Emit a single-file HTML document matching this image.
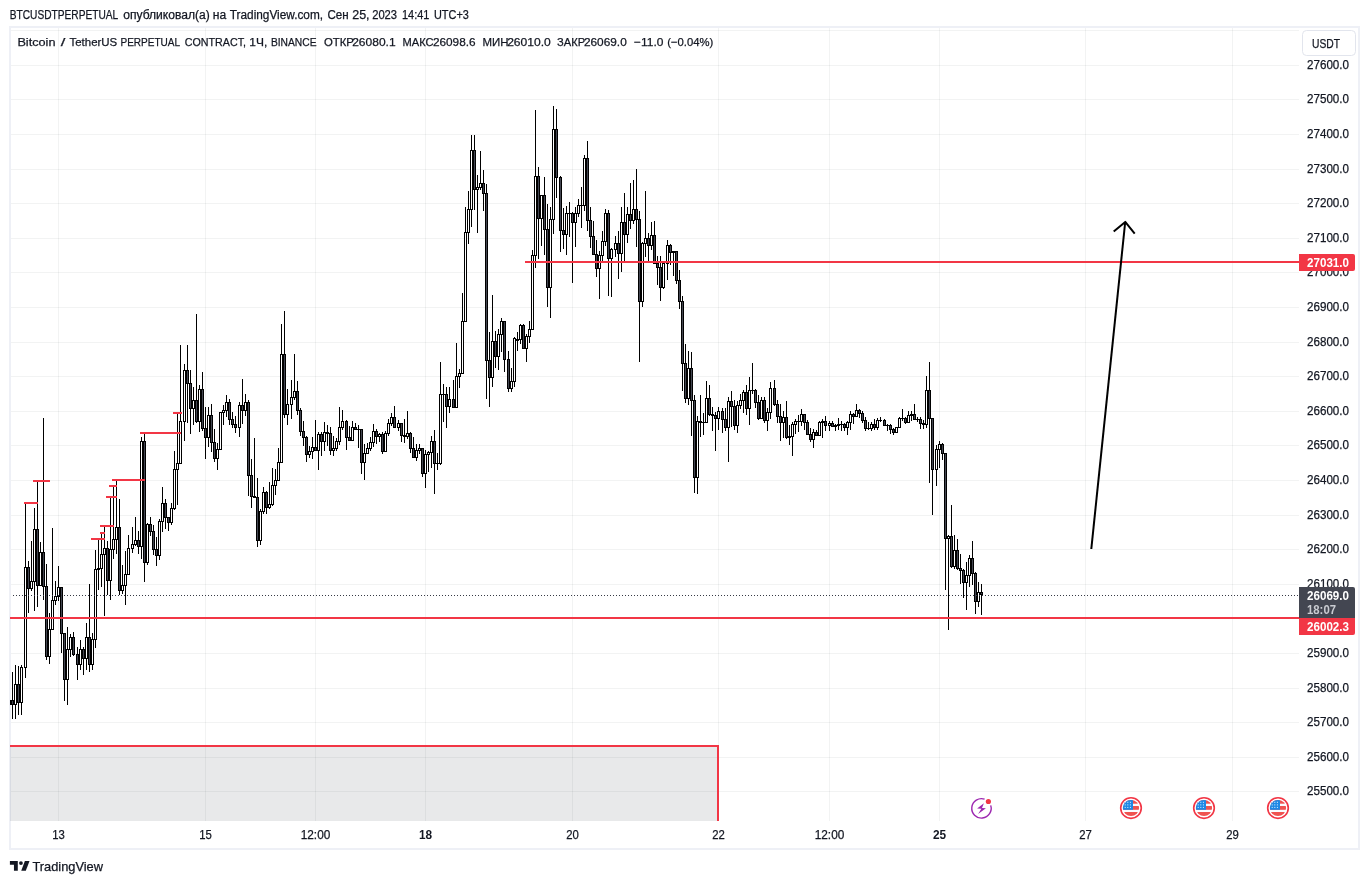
<!DOCTYPE html>
<html lang="ru"><head><meta charset="utf-8"><title>BTCUSDTPERPETUAL</title>
<style>html,body{margin:0;padding:0;background:#fff}body{width:1369px;height:884px;overflow:hidden}svg{display:block}text{font-family:"Liberation Sans",sans-serif;fill:#131722;stroke:#131722;stroke-width:0.25px}</style>
</head><body>
<svg width="1369" height="884" viewBox="0 0 1369 884">
<rect width="1369" height="884" fill="#fff"/>
<rect x="10" y="27" width="1349" height="822" fill="#fff" stroke="#eef0f6" stroke-width="2"/>
<g fill="#2a2e39" fill-opacity="0.06" shape-rendering="crispEdges">
<rect x="11" y="791" width="1288" height="1"/>
<rect x="11" y="757" width="1288" height="1"/>
<rect x="11" y="722" width="1288" height="1"/>
<rect x="11" y="688" width="1288" height="1"/>
<rect x="11" y="653" width="1288" height="1"/>
<rect x="11" y="618" width="1288" height="1"/>
<rect x="11" y="584" width="1288" height="1"/>
<rect x="11" y="549" width="1288" height="1"/>
<rect x="11" y="515" width="1288" height="1"/>
<rect x="11" y="480" width="1288" height="1"/>
<rect x="11" y="445" width="1288" height="1"/>
<rect x="11" y="411" width="1288" height="1"/>
<rect x="11" y="376" width="1288" height="1"/>
<rect x="11" y="342" width="1288" height="1"/>
<rect x="11" y="307" width="1288" height="1"/>
<rect x="11" y="272" width="1288" height="1"/>
<rect x="11" y="238" width="1288" height="1"/>
<rect x="11" y="203" width="1288" height="1"/>
<rect x="11" y="169" width="1288" height="1"/>
<rect x="11" y="134" width="1288" height="1"/>
<rect x="11" y="99" width="1288" height="1"/>
<rect x="11" y="65" width="1288" height="1"/>
<rect x="11" y="30" width="1288" height="1"/>
<rect x="58" y="28" width="1" height="793"/>
<rect x="205" y="28" width="1" height="793"/>
<rect x="315" y="28" width="1" height="793"/>
<rect x="425" y="28" width="1" height="793"/>
<rect x="572" y="28" width="1" height="793"/>
<rect x="718" y="28" width="1" height="793"/>
<rect x="829" y="28" width="1" height="793"/>
<rect x="939" y="28" width="1" height="793"/>
<rect x="1085" y="28" width="1" height="793"/>
<rect x="1232" y="28" width="1" height="793"/>
</g>
<g shape-rendering="crispEdges">
<rect x="10" y="745" width="709" height="76" fill="#2a2e39" fill-opacity="0.105"/>
<rect x="10" y="745" width="709" height="2" fill="#f23645"/>
<rect x="717" y="745" width="2" height="76" fill="#f23645"/>
</g>
<g shape-rendering="crispEdges" id="candles">
<path fill="#000" d="M12 672h1v28h-1zM12 705h1v14h-1zM15 665h1v19h-1zM15 705h1v14h-1zM18 666h1v18h-1zM18 703h1v12h-1zM21 665h1v2h-1zM21 703h1v12h-1zM25 503h1v64h-1zM25 668h1v10h-1zM28 561h1v6h-1zM28 589h1v24h-1zM31 541h1v40h-1zM31 589h1v2h-1zM34 508h1v21h-1zM34 582h1v29h-1zM37 481h1v48h-1zM37 586h1v21h-1zM40 542h1v10h-1zM43 418h1v134h-1zM43 587h1v13h-1zM46 564h1v22h-1zM46 657h1v3h-1zM49 613h1v16h-1zM49 657h1v7h-1zM52 528h1v72h-1zM55 581h1v15h-1zM55 601h1v4h-1zM58 566h1v21h-1zM58 597h1v4h-1zM61 634h1v19h-1zM64 680h1v21h-1zM67 627h1v22h-1zM67 680h1v25h-1zM70 634h1v3h-1zM70 650h1v7h-1zM73 632h1v5h-1zM73 655h1v1h-1zM77 647h1v7h-1zM77 665h1v15h-1zM80 640h1v9h-1zM80 665h1v5h-1zM83 647h1v2h-1zM83 659h1v16h-1zM86 623h1v14h-1zM86 659h1v11h-1zM89 584h1v53h-1zM89 665h1v7h-1zM92 633h1v6h-1zM92 665h1v5h-1zM95 550h1v19h-1zM95 640h1v8h-1zM98 539h1v29h-1zM98 570h1v20h-1zM101 533h1v21h-1zM101 569h1v18h-1zM104 526h1v22h-1zM104 555h1v61h-1zM107 541h1v7h-1zM107 581h1v14h-1zM110 497h1v52h-1zM110 581h1v19h-1zM113 486h1v53h-1zM113 550h1v9h-1zM116 480h1v47h-1zM116 540h1v14h-1zM119 499h1v28h-1zM119 591h1v4h-1zM122 565h1v20h-1zM122 591h1v3h-1zM125 551h1v23h-1zM125 586h1v19h-1zM128 535h1v13h-1zM132 527h1v17h-1zM132 549h1v4h-1zM135 517h1v23h-1zM135 545h1v1h-1zM138 531h1v9h-1zM138 547h1v7h-1zM141 437h1v4h-1zM141 547h1v12h-1zM144 433h1v8h-1zM144 563h1v19h-1zM147 523h1v1h-1zM147 563h1v2h-1zM150 517h1v7h-1zM150 532h1v4h-1zM153 525h1v6h-1zM153 550h1v5h-1zM156 537h1v12h-1zM156 556h1v10h-1zM159 519h1v2h-1zM159 556h1v4h-1zM162 487h1v16h-1zM162 522h1v10h-1zM165 499h1v4h-1zM165 518h1v11h-1zM168 523h1v8h-1zM171 503h1v5h-1zM171 523h1v2h-1zM174 451h1v18h-1zM174 509h1v1h-1zM177 413h1v50h-1zM177 470h1v35h-1zM180 345h1v76h-1zM184 364h1v6h-1zM184 422h1v19h-1zM187 345h1v25h-1zM187 384h1v39h-1zM190 370h1v13h-1zM190 409h1v25h-1zM193 387h1v13h-1zM193 409h1v16h-1zM196 314h1v86h-1zM196 422h1v1h-1zM199 385h1v4h-1zM199 422h1v10h-1zM202 372h1v17h-1zM202 429h1v2h-1zM205 407h1v21h-1zM205 438h1v21h-1zM208 407h1v8h-1zM208 438h1v9h-1zM211 404h1v11h-1zM211 443h1v9h-1zM214 429h1v13h-1zM214 459h1v3h-1zM217 443h1v6h-1zM217 459h1v11h-1zM223 405h1v5h-1zM223 413h1v12h-1zM226 395h1v7h-1zM226 411h1v6h-1zM229 399h1v3h-1zM229 420h1v5h-1zM232 412h1v7h-1zM232 425h1v3h-1zM235 416h1v8h-1zM235 428h1v5h-1zM239 402h1v3h-1zM239 428h1v9h-1zM242 379h1v26h-1zM242 411h1v13h-1zM245 394h1v8h-1zM245 411h1v5h-1zM248 400h1v2h-1zM248 476h1v20h-1zM251 459h1v16h-1zM251 497h1v11h-1zM254 438h1v58h-1zM257 478h1v19h-1zM257 541h1v6h-1zM260 509h1v2h-1zM260 541h1v4h-1zM263 487h1v5h-1zM263 512h1v2h-1zM266 491h1v1h-1zM266 508h1v6h-1zM269 482h1v22h-1zM269 508h1v1h-1zM272 468h1v17h-1zM272 505h1v1h-1zM275 469h1v11h-1zM275 486h1v9h-1zM278 448h1v14h-1zM281 324h1v30h-1zM284 311h1v43h-1zM284 415h1v3h-1zM287 389h1v15h-1zM287 415h1v10h-1zM291 380h1v17h-1zM291 405h1v14h-1zM294 354h1v37h-1zM294 398h1v2h-1zM297 381h1v10h-1zM297 411h1v4h-1zM300 408h1v2h-1zM300 432h1v4h-1zM303 421h1v10h-1zM303 438h1v8h-1zM306 436h1v1h-1zM306 455h1v7h-1zM309 446h1v5h-1zM309 455h1v3h-1zM312 437h1v10h-1zM312 452h1v7h-1zM315 420h1v27h-1zM318 432h1v2h-1zM318 451h1v19h-1zM321 432h1v2h-1zM321 442h1v14h-1zM324 422h1v10h-1zM324 442h1v9h-1zM327 425h1v7h-1zM327 434h1v12h-1zM330 427h1v6h-1zM330 451h1v4h-1zM333 436h1v12h-1zM333 451h1v5h-1zM336 438h1v3h-1zM336 449h1v2h-1zM339 407h1v20h-1zM339 442h1v3h-1zM342 410h1v11h-1zM342 428h1v2h-1zM346 420h1v1h-1zM346 438h1v12h-1zM349 426h1v11h-1zM352 421h1v6h-1zM355 423h1v4h-1zM358 425h1v4h-1zM358 430h1v18h-1zM361 463h1v11h-1zM364 444h1v9h-1zM364 463h1v17h-1zM367 443h1v5h-1zM370 437h1v5h-1zM370 449h1v2h-1zM373 424h1v7h-1zM373 443h1v4h-1zM376 429h1v2h-1zM376 437h1v7h-1zM379 433h1v1h-1zM379 437h1v5h-1zM382 432h1v2h-1zM382 452h1v2h-1zM385 431h1v2h-1zM388 419h1v4h-1zM388 434h1v2h-1zM391 413h1v4h-1zM391 424h1v2h-1zM394 406h1v11h-1zM398 420h1v3h-1zM398 428h1v3h-1zM401 436h1v6h-1zM404 419h1v16h-1zM404 437h1v6h-1zM407 411h1v22h-1zM407 437h1v2h-1zM410 432h1v1h-1zM410 449h1v4h-1zM413 437h1v11h-1zM416 444h1v6h-1zM416 458h1v3h-1zM419 444h1v4h-1zM419 451h1v3h-1zM422 474h1v3h-1zM425 450h1v4h-1zM425 474h1v14h-1zM428 451h1v1h-1zM428 455h1v17h-1zM431 436h1v5h-1zM431 453h1v15h-1zM434 430h1v11h-1zM434 464h1v30h-1zM437 453h1v10h-1zM437 464h1v6h-1zM440 362h1v32h-1zM440 464h1v1h-1zM443 384h1v10h-1zM443 395h1v27h-1zM446 387h1v7h-1zM446 407h1v21h-1zM449 387h1v12h-1zM449 407h1v6h-1zM453 380h1v19h-1zM456 343h1v33h-1zM459 369h1v4h-1zM459 377h1v11h-1zM462 293h1v28h-1zM465 207h1v25h-1zM468 191h1v18h-1zM468 233h1v11h-1zM471 135h1v15h-1zM471 210h1v17h-1zM474 135h1v15h-1zM474 190h1v20h-1zM477 175h1v12h-1zM477 190h1v43h-1zM480 151h1v32h-1zM480 188h1v2h-1zM483 170h1v13h-1zM483 194h1v17h-1zM486 184h1v9h-1zM486 361h1v38h-1zM489 332h1v28h-1zM489 378h1v29h-1zM492 295h1v46h-1zM492 378h1v9h-1zM495 331h1v10h-1zM495 357h1v11h-1zM498 329h1v5h-1zM498 357h1v13h-1zM501 318h1v3h-1zM501 335h1v17h-1zM504 360h1v12h-1zM508 351h1v8h-1zM508 389h1v3h-1zM511 368h1v13h-1zM511 389h1v3h-1zM514 337h1v1h-1zM514 382h1v5h-1zM517 332h1v7h-1zM517 341h1v10h-1zM520 324h1v1h-1zM520 340h1v4h-1zM523 324h1v1h-1zM526 334h1v2h-1zM526 349h1v13h-1zM529 321h1v8h-1zM529 337h1v6h-1zM532 250h1v5h-1zM535 110h1v66h-1zM535 256h1v12h-1zM538 167h1v9h-1zM538 219h1v40h-1zM541 219h1v27h-1zM544 177h1v18h-1zM544 230h1v25h-1zM547 204h1v25h-1zM547 288h1v19h-1zM550 207h1v12h-1zM550 288h1v30h-1zM553 106h1v23h-1zM553 220h1v14h-1zM556 109h1v20h-1zM556 178h1v20h-1zM560 176h1v1h-1zM560 231h1v21h-1zM563 208h1v22h-1zM563 235h1v14h-1zM566 206h1v7h-1zM566 235h1v20h-1zM569 202h1v11h-1zM569 214h1v23h-1zM572 212h1v1h-1zM572 223h1v60h-1zM575 207h1v6h-1zM575 223h1v24h-1zM578 199h1v6h-1zM578 214h1v3h-1zM581 187h1v18h-1zM581 206h1v22h-1zM584 155h1v3h-1zM584 206h1v5h-1zM587 141h1v17h-1zM587 221h1v10h-1zM590 207h1v13h-1zM590 237h1v11h-1zM593 221h1v15h-1zM596 240h1v14h-1zM596 269h1v8h-1zM599 251h1v4h-1zM599 269h1v30h-1zM602 231h1v10h-1zM602 256h1v5h-1zM605 209h1v4h-1zM605 242h1v4h-1zM608 210h1v3h-1zM608 259h1v37h-1zM611 248h1v1h-1zM611 259h1v38h-1zM615 236h1v7h-1zM615 250h1v7h-1zM618 231h1v12h-1zM618 254h1v25h-1zM621 207h1v15h-1zM621 254h1v18h-1zM624 193h1v29h-1zM624 235h1v26h-1zM627 207h1v7h-1zM627 235h1v8h-1zM630 183h1v31h-1zM630 221h1v8h-1zM633 180h1v29h-1zM633 221h1v3h-1zM636 169h1v40h-1zM636 220h1v27h-1zM639 211h1v8h-1zM639 302h1v60h-1zM642 242h1v1h-1zM642 302h1v5h-1zM645 191h1v47h-1zM645 244h1v13h-1zM648 233h1v5h-1zM648 246h1v15h-1zM651 222h1v13h-1zM651 246h1v4h-1zM654 221h1v14h-1zM657 256h1v7h-1zM657 268h1v17h-1zM660 256h1v11h-1zM660 288h1v13h-1zM663 288h1v1h-1zM667 240h1v5h-1zM667 264h1v16h-1zM670 244h1v1h-1zM670 253h1v12h-1zM673 253h1v23h-1zM676 281h1v3h-1zM679 270h1v10h-1zM679 302h1v7h-1zM682 296h1v5h-1zM682 364h1v27h-1zM685 344h1v19h-1zM685 399h1v4h-1zM688 351h1v17h-1zM688 399h1v6h-1zM691 352h1v16h-1zM691 401h1v35h-1zM694 395h1v5h-1zM694 478h1v15h-1zM697 416h1v5h-1zM697 478h1v16h-1zM700 395h1v26h-1zM700 423h1v14h-1zM703 413h1v9h-1zM703 423h1v12h-1zM706 381h1v17h-1zM709 385h1v13h-1zM709 415h1v1h-1zM712 407h1v7h-1zM712 416h1v15h-1zM715 412h1v3h-1zM715 419h1v32h-1zM718 407h1v4h-1zM718 419h1v11h-1zM722 408h1v3h-1zM722 420h1v13h-1zM725 408h1v11h-1zM725 428h1v3h-1zM728 397h1v4h-1zM728 428h1v34h-1zM731 391h1v10h-1zM731 407h1v20h-1zM734 400h1v6h-1zM734 426h1v4h-1zM737 401h1v4h-1zM737 426h1v7h-1zM740 394h1v6h-1zM740 406h1v3h-1zM743 390h1v2h-1zM743 401h1v12h-1zM746 385h1v7h-1zM746 409h1v6h-1zM749 377h1v13h-1zM749 409h1v16h-1zM752 363h1v27h-1zM752 391h1v3h-1zM755 389h1v1h-1zM755 403h1v5h-1zM758 395h1v7h-1zM758 419h1v1h-1zM761 397h1v3h-1zM764 397h1v3h-1zM764 421h1v2h-1zM767 408h1v4h-1zM767 421h1v10h-1zM770 382h1v6h-1zM770 413h1v6h-1zM774 380h1v8h-1zM774 405h1v1h-1zM777 400h1v4h-1zM777 417h1v6h-1zM780 404h1v12h-1zM780 423h1v18h-1zM783 411h1v6h-1zM783 423h1v15h-1zM786 401h1v16h-1zM786 438h1v1h-1zM789 425h1v11h-1zM789 438h1v7h-1zM792 422h1v2h-1zM792 437h1v19h-1zM795 419h1v2h-1zM795 425h1v9h-1zM798 415h1v6h-1zM798 422h1v10h-1zM801 409h1v5h-1zM801 422h1v4h-1zM804 423h1v7h-1zM807 420h1v2h-1zM810 428h1v6h-1zM810 440h1v2h-1zM813 429h1v3h-1zM813 440h1v8h-1zM816 430h1v2h-1zM819 421h1v1h-1zM822 419h1v2h-1zM822 423h1v15h-1zM825 416h1v5h-1zM825 426h1v5h-1zM829 421h1v2h-1zM829 426h1v5h-1zM832 421h1v2h-1zM835 424h1v1h-1zM835 427h1v4h-1zM838 418h1v6h-1zM838 426h1v4h-1zM841 421h1v3h-1zM841 425h1v6h-1zM844 423h1v1h-1zM844 428h1v3h-1zM847 421h1v1h-1zM847 428h1v7h-1zM850 411h1v3h-1zM850 423h1v7h-1zM853 413h1v1h-1zM853 417h1v7h-1zM856 404h1v6h-1zM859 409h1v1h-1zM859 414h1v4h-1zM862 411h1v2h-1zM862 421h1v2h-1zM865 417h1v3h-1zM865 429h1v2h-1zM868 422h1v6h-1zM868 429h1v1h-1zM871 422h1v2h-1zM871 429h1v2h-1zM874 419h1v5h-1zM874 428h1v2h-1zM877 418h1v2h-1zM877 428h1v2h-1zM880 417h1v3h-1zM880 421h1v1h-1zM884 419h1v1h-1zM887 424h1v1h-1zM887 426h1v5h-1zM890 424h1v1h-1zM890 430h1v4h-1zM893 428h1v1h-1zM893 433h1v2h-1zM899 417h1v1h-1zM902 409h1v9h-1zM902 419h1v2h-1zM905 417h1v1h-1zM905 423h1v1h-1zM908 411h1v4h-1zM911 411h1v3h-1zM911 416h1v5h-1zM914 404h1v10h-1zM917 417h1v2h-1zM917 420h1v2h-1zM920 417h1v2h-1zM920 424h1v5h-1zM923 420h1v3h-1zM923 425h1v4h-1zM926 376h1v14h-1zM926 425h1v3h-1zM929 362h1v28h-1zM929 419h1v64h-1zM932 470h1v45h-1zM936 445h1v4h-1zM936 470h1v16h-1zM939 441h1v3h-1zM939 450h1v18h-1zM942 443h1v1h-1zM942 454h1v6h-1zM945 539h1v51h-1zM948 535h1v1h-1zM948 539h1v91h-1zM951 505h1v31h-1zM951 567h1v1h-1zM954 535h1v15h-1zM954 567h1v2h-1zM957 539h1v11h-1zM957 569h1v1h-1zM960 554h1v14h-1zM960 571h1v13h-1zM963 569h1v1h-1zM963 583h1v15h-1zM966 562h1v13h-1zM966 583h1v27h-1zM969 555h1v3h-1zM969 576h1v11h-1zM972 541h1v17h-1zM972 574h1v11h-1zM975 572h1v1h-1zM975 602h1v12h-1zM978 582h1v10h-1zM978 602h1v5h-1zM981 584h1v8h-1zM981 595h1v20h-1zM10 700h1v5h-1z"/>
<path fill="#000" d="M11 700h3v5h-3zM14 684h3v21h-3zM17 684h3v19h-3zM20 667h3v36h-3zM24 567h3v101h-3zM27 567h3v22h-3zM30 581h3v8h-3zM33 529h3v53h-3zM36 529h3v57h-3zM39 552h3v34h-3zM42 552h3v35h-3zM45 586h3v71h-3zM48 629h3v28h-3zM51 600h3v30h-3zM54 596h3v5h-3zM57 587h3v10h-3zM60 587h3v47h-3zM63 633h3v47h-3zM66 649h3v31h-3zM69 637h3v13h-3zM72 637h3v18h-3zM76 654h3v11h-3zM79 649h3v16h-3zM82 649h3v10h-3zM85 637h3v22h-3zM88 637h3v28h-3zM91 639h3v26h-3zM94 569h3v71h-3zM97 568h3v2h-3zM100 554h3v15h-3zM103 548h3v7h-3zM106 548h3v33h-3zM109 549h3v32h-3zM112 539h3v11h-3zM115 527h3v13h-3zM118 527h3v64h-3zM121 585h3v6h-3zM124 574h3v12h-3zM127 548h3v27h-3zM131 544h3v5h-3zM134 540h3v5h-3zM137 540h3v7h-3zM140 441h3v106h-3zM143 441h3v122h-3zM146 524h3v39h-3zM149 524h3v8h-3zM152 531h3v19h-3zM155 549h3v7h-3zM158 521h3v35h-3zM161 503h3v19h-3zM164 503h3v15h-3zM167 517h3v6h-3zM170 508h3v15h-3zM173 469h3v40h-3zM176 463h3v7h-3zM179 421h3v43h-3zM183 370h3v52h-3zM186 370h3v14h-3zM189 383h3v26h-3zM192 400h3v9h-3zM195 400h3v22h-3zM198 389h3v33h-3zM201 389h3v40h-3zM204 428h3v10h-3zM207 415h3v23h-3zM210 415h3v28h-3zM213 442h3v17h-3zM216 449h3v10h-3zM219 412h3v38h-3zM222 410h3v3h-3zM225 402h3v9h-3zM228 402h3v18h-3zM231 419h3v6h-3zM234 424h3v4h-3zM238 405h3v23h-3zM241 405h3v6h-3zM244 402h3v9h-3zM247 402h3v74h-3zM250 475h3v22h-3zM253 496h3v2h-3zM256 497h3v44h-3zM259 511h3v30h-3zM262 492h3v20h-3zM265 492h3v16h-3zM268 504h3v4h-3zM271 485h3v20h-3zM274 480h3v6h-3zM277 462h3v19h-3zM280 354h3v109h-3zM283 354h3v61h-3zM286 404h3v11h-3zM290 397h3v8h-3zM293 391h3v7h-3zM296 391h3v20h-3zM299 410h3v22h-3zM302 431h3v7h-3zM305 437h3v18h-3zM308 451h3v4h-3zM311 447h3v5h-3zM314 447h3v4h-3zM317 434h3v17h-3zM320 434h3v8h-3zM323 432h3v10h-3zM326 432h3v2h-3zM329 433h3v18h-3zM332 448h3v3h-3zM335 441h3v8h-3zM338 427h3v15h-3zM341 421h3v7h-3zM345 421h3v17h-3zM348 437h3v4h-3zM351 427h3v14h-3zM354 427h3v3h-3zM357 429h3v1h-3zM360 429h3v34h-3zM363 453h3v10h-3zM366 448h3v6h-3zM369 442h3v7h-3zM372 431h3v12h-3zM375 431h3v6h-3zM378 434h3v3h-3zM381 434h3v18h-3zM384 433h3v19h-3zM387 423h3v11h-3zM390 417h3v7h-3zM393 417h3v11h-3zM397 423h3v5h-3zM400 423h3v13h-3zM403 435h3v2h-3zM406 433h3v4h-3zM409 433h3v16h-3zM412 448h3v10h-3zM415 450h3v8h-3zM418 448h3v3h-3zM421 448h3v26h-3zM424 454h3v20h-3zM427 452h3v3h-3zM430 441h3v12h-3zM433 441h3v23h-3zM436 463h3v1h-3zM439 394h3v70h-3zM442 394h3v1h-3zM445 394h3v13h-3zM448 399h3v8h-3zM452 399h3v9h-3zM455 376h3v32h-3zM458 373h3v4h-3zM461 321h3v53h-3zM464 232h3v90h-3zM467 209h3v24h-3zM470 150h3v60h-3zM473 150h3v40h-3zM476 187h3v3h-3zM479 183h3v5h-3zM482 183h3v11h-3zM485 193h3v168h-3zM488 360h3v18h-3zM491 341h3v37h-3zM494 341h3v16h-3zM497 334h3v23h-3zM500 321h3v14h-3zM503 321h3v39h-3zM507 359h3v30h-3zM510 381h3v8h-3zM513 338h3v44h-3zM516 339h3v2h-3zM519 325h3v15h-3zM522 325h3v24h-3zM525 336h3v13h-3zM528 329h3v8h-3zM531 255h3v75h-3zM534 176h3v80h-3zM537 176h3v43h-3zM540 195h3v24h-3zM543 195h3v35h-3zM546 229h3v59h-3zM549 219h3v69h-3zM552 129h3v91h-3zM555 129h3v49h-3zM559 177h3v54h-3zM562 230h3v5h-3zM565 213h3v22h-3zM568 213h3v1h-3zM571 213h3v10h-3zM574 213h3v10h-3zM577 205h3v9h-3zM580 205h3v1h-3zM583 158h3v48h-3zM586 158h3v63h-3zM589 220h3v17h-3zM592 236h3v19h-3zM595 254h3v15h-3zM598 255h3v14h-3zM601 241h3v15h-3zM604 213h3v29h-3zM607 213h3v46h-3zM610 249h3v10h-3zM614 243h3v7h-3zM617 243h3v11h-3zM620 222h3v32h-3zM623 222h3v13h-3zM626 214h3v21h-3zM629 214h3v7h-3zM632 209h3v12h-3zM635 209h3v11h-3zM638 219h3v83h-3zM641 243h3v59h-3zM644 238h3v6h-3zM647 238h3v8h-3zM650 235h3v11h-3zM653 235h3v29h-3zM656 263h3v5h-3zM659 267h3v21h-3zM662 263h3v25h-3zM666 245h3v19h-3zM669 245h3v8h-3zM672 251h3v2h-3zM675 251h3v30h-3zM678 280h3v22h-3zM681 301h3v63h-3zM684 363h3v36h-3zM687 368h3v31h-3zM690 368h3v33h-3zM693 400h3v78h-3zM696 421h3v57h-3zM699 421h3v2h-3zM702 422h3v1h-3zM705 398h3v25h-3zM708 398h3v17h-3zM711 414h3v2h-3zM714 415h3v4h-3zM717 411h3v8h-3zM721 411h3v9h-3zM724 419h3v9h-3zM727 401h3v27h-3zM730 401h3v6h-3zM733 406h3v20h-3zM736 405h3v21h-3zM739 400h3v6h-3zM742 392h3v9h-3zM745 392h3v17h-3zM748 390h3v19h-3zM751 390h3v1h-3zM754 390h3v13h-3zM757 402h3v17h-3zM760 400h3v19h-3zM763 400h3v21h-3zM766 412h3v9h-3zM769 388h3v25h-3zM773 388h3v17h-3zM776 404h3v13h-3zM779 416h3v7h-3zM782 417h3v6h-3zM785 417h3v21h-3zM788 436h3v2h-3zM791 424h3v13h-3zM794 421h3v4h-3zM797 421h3v1h-3zM800 414h3v8h-3zM803 414h3v9h-3zM806 422h3v13h-3zM809 434h3v6h-3zM812 432h3v8h-3zM815 432h3v4h-3zM818 422h3v14h-3zM821 421h3v2h-3zM824 421h3v5h-3zM828 423h3v3h-3zM831 423h3v4h-3zM834 425h3v2h-3zM837 424h3v2h-3zM840 424h3v1h-3zM843 424h3v4h-3zM846 422h3v6h-3zM849 414h3v9h-3zM852 414h3v3h-3zM855 410h3v7h-3zM858 410h3v4h-3zM861 413h3v8h-3zM864 420h3v9h-3zM867 428h3v1h-3zM870 424h3v5h-3zM873 424h3v4h-3zM876 420h3v8h-3zM879 420h3v1h-3zM883 420h3v6h-3zM886 425h3v1h-3zM889 425h3v5h-3zM892 429h3v4h-3zM895 427h3v6h-3zM898 418h3v10h-3zM901 418h3v1h-3zM904 418h3v5h-3zM907 415h3v8h-3zM910 414h3v2h-3zM913 414h3v6h-3zM916 419h3v1h-3zM919 419h3v5h-3zM922 423h3v2h-3zM925 390h3v35h-3zM928 390h3v29h-3zM931 418h3v52h-3zM935 449h3v21h-3zM938 444h3v6h-3zM941 444h3v10h-3zM944 453h3v86h-3zM947 536h3v3h-3zM950 536h3v31h-3zM953 550h3v17h-3zM956 550h3v19h-3zM959 568h3v3h-3zM962 570h3v13h-3zM965 575h3v8h-3zM968 558h3v18h-3zM971 558h3v16h-3zM974 573h3v29h-3zM977 592h3v10h-3zM980 592h3v3h-3z"/>
<path fill="#fff" d="M15 685h1v19h-1zM21 668h1v34h-1zM25 568h1v99h-1zM31 582h1v6h-1zM34 530h1v51h-1zM40 553h1v32h-1zM49 630h1v26h-1zM52 601h1v28h-1zM55 597h1v3h-1zM58 588h1v8h-1zM67 650h1v29h-1zM70 638h1v11h-1zM80 650h1v14h-1zM86 638h1v20h-1zM92 640h1v24h-1zM95 570h1v69h-1zM101 555h1v13h-1zM104 549h1v5h-1zM110 550h1v30h-1zM113 540h1v9h-1zM116 528h1v11h-1zM122 586h1v4h-1zM125 575h1v10h-1zM128 549h1v25h-1zM132 545h1v3h-1zM135 541h1v3h-1zM141 442h1v104h-1zM147 525h1v37h-1zM159 522h1v33h-1zM162 504h1v17h-1zM171 509h1v13h-1zM174 470h1v38h-1zM177 464h1v5h-1zM180 422h1v41h-1zM184 371h1v50h-1zM193 401h1v7h-1zM199 390h1v31h-1zM208 416h1v21h-1zM217 450h1v8h-1zM220 413h1v36h-1zM223 411h1v1h-1zM226 403h1v7h-1zM239 406h1v21h-1zM245 403h1v7h-1zM260 512h1v28h-1zM263 493h1v18h-1zM269 505h1v2h-1zM272 486h1v18h-1zM275 481h1v4h-1zM278 463h1v17h-1zM281 355h1v107h-1zM287 405h1v9h-1zM291 398h1v6h-1zM294 392h1v5h-1zM309 452h1v2h-1zM312 448h1v3h-1zM318 435h1v15h-1zM324 433h1v8h-1zM333 449h1v1h-1zM336 442h1v6h-1zM339 428h1v13h-1zM342 422h1v5h-1zM352 428h1v12h-1zM364 454h1v8h-1zM367 449h1v4h-1zM370 443h1v5h-1zM373 432h1v10h-1zM379 435h1v1h-1zM385 434h1v17h-1zM388 424h1v9h-1zM391 418h1v5h-1zM398 424h1v3h-1zM407 434h1v2h-1zM416 451h1v6h-1zM419 449h1v1h-1zM425 455h1v18h-1zM428 453h1v1h-1zM431 442h1v10h-1zM440 395h1v68h-1zM449 400h1v6h-1zM456 377h1v30h-1zM459 374h1v2h-1zM462 322h1v51h-1zM465 233h1v88h-1zM468 210h1v22h-1zM471 151h1v58h-1zM477 188h1v1h-1zM480 184h1v3h-1zM492 342h1v35h-1zM498 335h1v21h-1zM501 322h1v12h-1zM511 382h1v6h-1zM514 339h1v42h-1zM520 326h1v13h-1zM526 337h1v11h-1zM529 330h1v6h-1zM532 256h1v73h-1zM535 177h1v78h-1zM541 196h1v22h-1zM550 220h1v67h-1zM553 130h1v89h-1zM566 214h1v20h-1zM575 214h1v8h-1zM578 206h1v7h-1zM584 159h1v46h-1zM599 256h1v12h-1zM602 242h1v13h-1zM605 214h1v27h-1zM611 250h1v8h-1zM615 244h1v5h-1zM621 223h1v30h-1zM627 215h1v19h-1zM633 210h1v10h-1zM642 244h1v57h-1zM645 239h1v4h-1zM651 236h1v9h-1zM663 264h1v23h-1zM667 246h1v17h-1zM688 369h1v29h-1zM697 422h1v55h-1zM706 399h1v23h-1zM718 412h1v6h-1zM728 402h1v25h-1zM737 406h1v19h-1zM740 401h1v4h-1zM743 393h1v7h-1zM749 391h1v17h-1zM761 401h1v17h-1zM767 413h1v7h-1zM770 389h1v23h-1zM783 418h1v4h-1zM792 425h1v11h-1zM795 422h1v2h-1zM801 415h1v6h-1zM813 433h1v6h-1zM819 423h1v12h-1zM829 424h1v1h-1zM847 423h1v4h-1zM850 415h1v7h-1zM856 411h1v5h-1zM871 425h1v3h-1zM877 421h1v6h-1zM896 428h1v4h-1zM899 419h1v8h-1zM908 416h1v6h-1zM926 391h1v33h-1zM936 450h1v19h-1zM939 445h1v4h-1zM948 537h1v1h-1zM954 551h1v15h-1zM966 576h1v6h-1zM969 559h1v16h-1zM978 593h1v8h-1z"/>
<path fill="#434651" d="M12 701h1v3h-1zM18 685h1v17h-1zM28 568h1v20h-1zM37 530h1v55h-1zM43 553h1v33h-1zM46 587h1v69h-1zM61 588h1v45h-1zM64 634h1v45h-1zM73 638h1v16h-1zM77 655h1v9h-1zM83 650h1v8h-1zM89 638h1v26h-1zM107 549h1v31h-1zM119 528h1v62h-1zM138 541h1v5h-1zM144 442h1v120h-1zM150 525h1v6h-1zM153 532h1v17h-1zM156 550h1v5h-1zM165 504h1v13h-1zM168 518h1v4h-1zM187 371h1v12h-1zM190 384h1v24h-1zM196 401h1v20h-1zM202 390h1v38h-1zM205 429h1v8h-1zM211 416h1v26h-1zM214 443h1v15h-1zM229 403h1v16h-1zM232 420h1v4h-1zM235 425h1v2h-1zM242 406h1v4h-1zM248 403h1v72h-1zM251 476h1v20h-1zM257 498h1v42h-1zM266 493h1v14h-1zM284 355h1v59h-1zM297 392h1v18h-1zM300 411h1v20h-1zM303 432h1v5h-1zM306 438h1v16h-1zM315 448h1v2h-1zM321 435h1v6h-1zM330 434h1v16h-1zM346 422h1v15h-1zM349 438h1v2h-1zM355 428h1v1h-1zM361 430h1v32h-1zM376 432h1v4h-1zM382 435h1v16h-1zM394 418h1v9h-1zM401 424h1v11h-1zM410 434h1v14h-1zM413 449h1v8h-1zM422 449h1v24h-1zM434 442h1v21h-1zM446 395h1v11h-1zM453 400h1v7h-1zM474 151h1v38h-1zM483 184h1v9h-1zM486 194h1v166h-1zM489 361h1v16h-1zM495 342h1v14h-1zM504 322h1v37h-1zM508 360h1v28h-1zM523 326h1v22h-1zM538 177h1v41h-1zM544 196h1v33h-1zM547 230h1v57h-1zM556 130h1v47h-1zM560 178h1v52h-1zM563 231h1v3h-1zM572 214h1v8h-1zM587 159h1v61h-1zM590 221h1v15h-1zM593 237h1v17h-1zM596 255h1v13h-1zM608 214h1v44h-1zM618 244h1v9h-1zM624 223h1v11h-1zM630 215h1v5h-1zM636 210h1v9h-1zM639 220h1v81h-1zM648 239h1v6h-1zM654 236h1v27h-1zM657 264h1v3h-1zM660 268h1v19h-1zM670 246h1v6h-1zM676 252h1v28h-1zM679 281h1v20h-1zM682 302h1v61h-1zM685 364h1v34h-1zM691 369h1v31h-1zM694 401h1v76h-1zM709 399h1v15h-1zM715 416h1v2h-1zM722 412h1v7h-1zM725 420h1v7h-1zM731 402h1v4h-1zM734 407h1v18h-1zM746 393h1v15h-1zM755 391h1v11h-1zM758 403h1v15h-1zM764 401h1v19h-1zM774 389h1v15h-1zM777 405h1v11h-1zM780 417h1v5h-1zM786 418h1v19h-1zM804 415h1v7h-1zM807 423h1v11h-1zM810 435h1v4h-1zM816 433h1v2h-1zM825 422h1v3h-1zM832 424h1v2h-1zM844 425h1v2h-1zM853 415h1v1h-1zM859 411h1v2h-1zM862 414h1v6h-1zM865 421h1v7h-1zM874 425h1v2h-1zM884 421h1v4h-1zM890 426h1v3h-1zM893 430h1v2h-1zM905 419h1v3h-1zM914 415h1v4h-1zM920 420h1v3h-1zM929 391h1v27h-1zM932 419h1v50h-1zM942 445h1v8h-1zM945 454h1v84h-1zM951 537h1v29h-1zM957 551h1v17h-1zM960 569h1v1h-1zM963 571h1v11h-1zM972 559h1v14h-1zM975 574h1v27h-1zM981 593h1v1h-1z"/>
</g>
<g fill="#f23645" shape-rendering="crispEdges" id="marks">
<rect x="24" y="502" width="14" height="2"/>
<rect x="33" y="480" width="17" height="2"/>
<rect x="91" y="538" width="14" height="2"/>
<rect x="100" y="532" width="5" height="2"/>
<rect x="100" y="525" width="14" height="2"/>
<rect x="106" y="496" width="11" height="2"/>
<rect x="109" y="485" width="8" height="2"/>
<rect x="112" y="479" width="33" height="2"/>
<rect x="140" y="432" width="41" height="2"/>
<rect x="173" y="412" width="9" height="2"/>
</g>
<g shape-rendering="crispEdges">
<path d="M13 595.5H1299" stroke="#363a45" stroke-width="1" stroke-dasharray="1 2" fill="none"/>
<rect x="525" y="261" width="774" height="2" fill="#f23645"/>
<rect x="10" y="617" width="1289" height="2" fill="#f23645"/>
</g>
<g stroke="#000" stroke-width="2" fill="none" stroke-linecap="butt"><path d="M1091.3 549 L1125.2 222"/><path d="M1113.7 231.6 L1125.25 221.9 L1134.7 233.6" stroke-linejoin="round"/></g>
<g transform="translate(1131 808)"><circle r="10.3" fill="#fff" stroke="#f23645" stroke-width="1.65"/><clipPath id="fc1131"><circle r="8.1"/></clipPath><g clip-path="url(#fc1131)"><rect x="-9" y="-9" width="18" height="18" fill="#fafcff"/><rect x="-9" y="-8.1" width="18" height="3.8" fill="#ef5350"/><rect x="-9" y="-2" width="18" height="3.8" fill="#ef5350"/><rect x="-9" y="4" width="18" height="5" fill="#ef5350"/><rect x="-9" y="-9" width="11" height="10.8" fill="#1e88e5"/><rect x="-6.3" y="-6.2" width="1" height="1" fill="#e3f2fd"/><rect x="-3.7" y="-6.2" width="1" height="1" fill="#e3f2fd"/><rect x="-1.1" y="-6.2" width="1" height="1" fill="#e3f2fd"/><rect x="-6.3" y="-3.6" width="1" height="1" fill="#e3f2fd"/><rect x="-3.7" y="-3.6" width="1" height="1" fill="#e3f2fd"/><rect x="-1.1" y="-3.6" width="1" height="1" fill="#e3f2fd"/><rect x="-6.3" y="-1.1" width="1" height="1" fill="#e3f2fd"/><rect x="-3.7" y="-1.1" width="1" height="1" fill="#e3f2fd"/><rect x="-1.1" y="-1.1" width="1" height="1" fill="#e3f2fd"/></g></g>
<g transform="translate(1204 808)"><circle r="10.3" fill="#fff" stroke="#f23645" stroke-width="1.65"/><clipPath id="fc1204"><circle r="8.1"/></clipPath><g clip-path="url(#fc1204)"><rect x="-9" y="-9" width="18" height="18" fill="#fafcff"/><rect x="-9" y="-8.1" width="18" height="3.8" fill="#ef5350"/><rect x="-9" y="-2" width="18" height="3.8" fill="#ef5350"/><rect x="-9" y="4" width="18" height="5" fill="#ef5350"/><rect x="-9" y="-9" width="11" height="10.8" fill="#1e88e5"/><rect x="-6.3" y="-6.2" width="1" height="1" fill="#e3f2fd"/><rect x="-3.7" y="-6.2" width="1" height="1" fill="#e3f2fd"/><rect x="-1.1" y="-6.2" width="1" height="1" fill="#e3f2fd"/><rect x="-6.3" y="-3.6" width="1" height="1" fill="#e3f2fd"/><rect x="-3.7" y="-3.6" width="1" height="1" fill="#e3f2fd"/><rect x="-1.1" y="-3.6" width="1" height="1" fill="#e3f2fd"/><rect x="-6.3" y="-1.1" width="1" height="1" fill="#e3f2fd"/><rect x="-3.7" y="-1.1" width="1" height="1" fill="#e3f2fd"/><rect x="-1.1" y="-1.1" width="1" height="1" fill="#e3f2fd"/></g></g>
<g transform="translate(1278 808)"><circle r="10.3" fill="#fff" stroke="#f23645" stroke-width="1.65"/><clipPath id="fc1278"><circle r="8.1"/></clipPath><g clip-path="url(#fc1278)"><rect x="-9" y="-9" width="18" height="18" fill="#fafcff"/><rect x="-9" y="-8.1" width="18" height="3.8" fill="#ef5350"/><rect x="-9" y="-2" width="18" height="3.8" fill="#ef5350"/><rect x="-9" y="4" width="18" height="5" fill="#ef5350"/><rect x="-9" y="-9" width="11" height="10.8" fill="#1e88e5"/><rect x="-6.3" y="-6.2" width="1" height="1" fill="#e3f2fd"/><rect x="-3.7" y="-6.2" width="1" height="1" fill="#e3f2fd"/><rect x="-1.1" y="-6.2" width="1" height="1" fill="#e3f2fd"/><rect x="-6.3" y="-3.6" width="1" height="1" fill="#e3f2fd"/><rect x="-3.7" y="-3.6" width="1" height="1" fill="#e3f2fd"/><rect x="-1.1" y="-3.6" width="1" height="1" fill="#e3f2fd"/><rect x="-6.3" y="-1.1" width="1" height="1" fill="#e3f2fd"/><rect x="-3.7" y="-1.1" width="1" height="1" fill="#e3f2fd"/><rect x="-1.1" y="-1.1" width="1" height="1" fill="#e3f2fd"/></g></g>
<g transform="translate(981.5 808.4)">
<path d="M3.1 -9.2 A9.7 9.7 0 1 0 9.2 -3.0" fill="none" stroke="#9c27b0" stroke-width="1.4"/>
<path d="M2.4 -5.1 L-4.4 0.1 L-0.1 0.3 L-3.4 5.5 L4.4 -0.1 L0.5 -0.3 Z" fill="#9c27b0"/>
<circle cx="6.9" cy="-6.9" r="2.6" fill="#f23645"/>
</g>
<g font-size="12" text-anchor="start">
<text x="1307" y="795.3" textLength="42" lengthAdjust="spacingAndGlyphs">25500.0</text>
<text x="1307" y="760.7" textLength="42" lengthAdjust="spacingAndGlyphs">25600.0</text>
<text x="1307" y="726.1" textLength="42" lengthAdjust="spacingAndGlyphs">25700.0</text>
<text x="1307" y="691.5" textLength="42" lengthAdjust="spacingAndGlyphs">25800.0</text>
<text x="1307" y="656.9" textLength="42" lengthAdjust="spacingAndGlyphs">25900.0</text>
<text x="1307" y="622.3" textLength="42" lengthAdjust="spacingAndGlyphs">26000.0</text>
<text x="1307" y="587.7" textLength="42" lengthAdjust="spacingAndGlyphs">26100.0</text>
<text x="1307" y="553.1" textLength="42" lengthAdjust="spacingAndGlyphs">26200.0</text>
<text x="1307" y="518.5" textLength="42" lengthAdjust="spacingAndGlyphs">26300.0</text>
<text x="1307" y="483.9" textLength="42" lengthAdjust="spacingAndGlyphs">26400.0</text>
<text x="1307" y="449.3" textLength="42" lengthAdjust="spacingAndGlyphs">26500.0</text>
<text x="1307" y="414.7" textLength="42" lengthAdjust="spacingAndGlyphs">26600.0</text>
<text x="1307" y="380.1" textLength="42" lengthAdjust="spacingAndGlyphs">26700.0</text>
<text x="1307" y="345.5" textLength="42" lengthAdjust="spacingAndGlyphs">26800.0</text>
<text x="1307" y="310.9" textLength="42" lengthAdjust="spacingAndGlyphs">26900.0</text>
<text x="1307" y="276.3" textLength="42" lengthAdjust="spacingAndGlyphs">27000.0</text>
<text x="1307" y="241.7" textLength="42" lengthAdjust="spacingAndGlyphs">27100.0</text>
<text x="1307" y="207.1" textLength="42" lengthAdjust="spacingAndGlyphs">27200.0</text>
<text x="1307" y="172.5" textLength="42" lengthAdjust="spacingAndGlyphs">27300.0</text>
<text x="1307" y="137.9" textLength="42" lengthAdjust="spacingAndGlyphs">27400.0</text>
<text x="1307" y="103.3" textLength="42" lengthAdjust="spacingAndGlyphs">27500.0</text>
<text x="1307" y="68.7" textLength="42" lengthAdjust="spacingAndGlyphs">27600.0</text>
</g>
<rect x="1302.5" y="30.5" width="53" height="25" rx="4" fill="#fff" stroke="#e2e5ed" stroke-width="1"/>
<text x="1312" y="47.5" font-size="12" textLength="28" lengthAdjust="spacingAndGlyphs">USDT</text>
<path d="M1299 254h54a2 2 0 0 1 2 2v13a2 2 0 0 1 -2 2h-54z" fill="#f23645"/>
<text x="1307" y="266.6" font-size="12" font-weight="bold" style="fill:#fff;stroke:none" textLength="42" lengthAdjust="spacingAndGlyphs">27031.0</text>
<path d="M1299 587h54a2 2 0 0 1 2 2v29h-56z" fill="#434651"/>
<text x="1307" y="600" font-size="12" font-weight="bold" style="fill:#fff;stroke:none" textLength="42" lengthAdjust="spacingAndGlyphs">26069.0</text>
<text x="1307" y="614" font-size="12" font-weight="bold" style="fill:#c9cbd1;stroke:none" textLength="29" lengthAdjust="spacingAndGlyphs">18:07</text>
<path d="M1299 618h56v15a2 2 0 0 1 -2 2h-54z" fill="#f23645"/>
<text x="1307" y="631.2" font-size="12" font-weight="bold" style="fill:#fff;stroke:none" textLength="42" lengthAdjust="spacingAndGlyphs">26002.3</text>
<g font-size="12" text-anchor="middle">
<text x="58.5" y="839" textLength="12.6" lengthAdjust="spacingAndGlyphs">13</text>
<text x="205.5" y="839" textLength="12.6" lengthAdjust="spacingAndGlyphs">15</text>
<text x="315.5" y="839" textLength="29.6" lengthAdjust="spacingAndGlyphs">12:00</text>
<text x="425.5" y="839" font-weight="bold" style="stroke:none" textLength="13.2" lengthAdjust="spacingAndGlyphs">18</text>
<text x="572.5" y="839" textLength="12.6" lengthAdjust="spacingAndGlyphs">20</text>
<text x="718.5" y="839" textLength="12.6" lengthAdjust="spacingAndGlyphs">22</text>
<text x="829.5" y="839" textLength="29.6" lengthAdjust="spacingAndGlyphs">12:00</text>
<text x="939.5" y="839" font-weight="bold" style="stroke:none" textLength="13.2" lengthAdjust="spacingAndGlyphs">25</text>
<text x="1085.5" y="839" textLength="12.6" lengthAdjust="spacingAndGlyphs">27</text>
<text x="1232.5" y="839" textLength="12.6" lengthAdjust="spacingAndGlyphs">29</text>
</g>
<g font-size="12">
<text x="9.74" y="19" textLength="108.46" lengthAdjust="spacingAndGlyphs">BTCUSDTPERPETUAL</text>
<text x="123.25" y="19" textLength="86.57" lengthAdjust="spacingAndGlyphs">опубликовал(а)</text>
<text x="212.74" y="19" textLength="13.46" lengthAdjust="spacingAndGlyphs">на</text>
<text x="229.79" y="19" textLength="93.27" lengthAdjust="spacingAndGlyphs">TradingView.com,</text>
<text x="327.47" y="19" textLength="21.20" lengthAdjust="spacingAndGlyphs">Сен</text>
<text x="352.23" y="19" textLength="17.37" lengthAdjust="spacingAndGlyphs">25,</text>
<text x="372.16" y="19" textLength="24.94" lengthAdjust="spacingAndGlyphs">2023</text>
<text x="402.03" y="19" textLength="27.46" lengthAdjust="spacingAndGlyphs">14:41</text>
<text x="433.99" y="19" textLength="34.83" lengthAdjust="spacingAndGlyphs">UTC+3</text>
</g>
<g font-size="11.8">
<text x="17.41" y="45.5" textLength="38.10" lengthAdjust="spacingAndGlyphs">Bitcoin</text>
<text x="60.70" y="45.5" textLength="4.58" lengthAdjust="spacingAndGlyphs">/</text>
<text x="69.49" y="45.5" textLength="47.76" lengthAdjust="spacingAndGlyphs">TetherUS</text>
<text x="120.50" y="45.5" textLength="59.61" lengthAdjust="spacingAndGlyphs">PERPETUAL</text>
<text x="184.71" y="45.5" textLength="61.28" lengthAdjust="spacingAndGlyphs">CONTRACT,</text>
<text x="249.29" y="45.5" textLength="17.94" lengthAdjust="spacingAndGlyphs">1Ч,</text>
<text x="270.88" y="45.5" textLength="45.66" lengthAdjust="spacingAndGlyphs">BINANCE</text>
<text x="323.93" y="45.5" textLength="29.97" lengthAdjust="spacingAndGlyphs">ОТКР</text>
<text x="352.18" y="45.5" textLength="43.43" lengthAdjust="spacingAndGlyphs">26080.1</text>
<text x="402.62" y="45.5" textLength="31.00" lengthAdjust="spacingAndGlyphs">МАКС</text>
<text x="432.90" y="45.5" textLength="42.66" lengthAdjust="spacingAndGlyphs">26098.6</text>
<text x="482.50" y="45.5" textLength="26.00" lengthAdjust="spacingAndGlyphs">МИН</text>
<text x="507.15" y="45.5" textLength="43.64" lengthAdjust="spacingAndGlyphs">26010.0</text>
<text x="557.08" y="45.5" textLength="28.05" lengthAdjust="spacingAndGlyphs">ЗАКР</text>
<text x="583.92" y="45.5" textLength="42.82" lengthAdjust="spacingAndGlyphs">26069.0</text>
<text x="634.03" y="45.5" textLength="29.46" lengthAdjust="spacingAndGlyphs">−11.0</text>
<text x="667.22" y="45.5" textLength="46.12" lengthAdjust="spacingAndGlyphs">(−0.04%)</text>
</g>
<g fill="#131722"><path d="M9.9 861h7.9v9.7h-3.85v-5.9h-4.05z"/><circle cx="20.95" cy="863.1" r="1.9"/><path d="M24.9 861h4.6l-3.7 9.7h-4.55z"/></g>
<text x="32.4" y="870.7" font-size="12.6" textLength="70.6" lengthAdjust="spacingAndGlyphs">TradingView</text>
</svg></body></html>
